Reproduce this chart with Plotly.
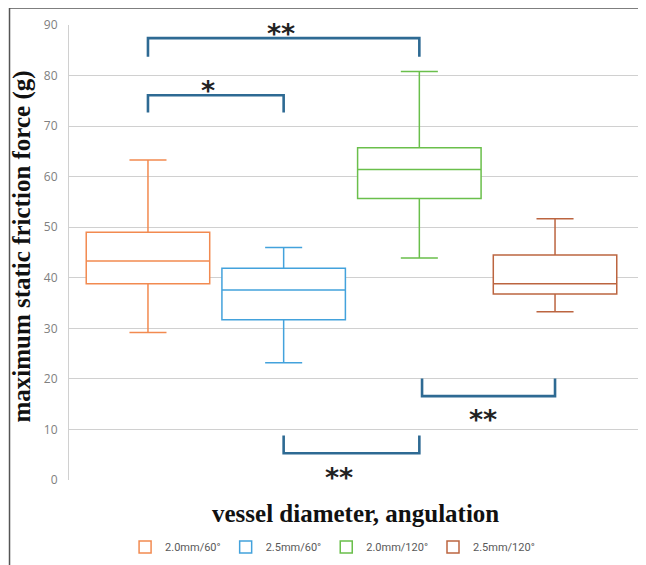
import plotly.graph_objects as go

categories = ["2.0mm/60°", "2.5mm/60°", "2.0mm/120°", "2.5mm/120°"]
positions = [0, 1, 2, 3]
lower_fence = [29.2, 23.2, 43.9, 33.3]
q1 = [38.8, 31.7, 55.7, 36.8]
median = [43.3, 37.6, 61.4, 38.8]
q3 = [49.0, 41.9, 65.7, 44.5]
upper_fence = [63.3, 46.0, 80.8, 51.7]
colors = ["#F28A50", "#43A2DC", "#6ABF4B", "#BC6540"]

# significance brackets
bracket_x0 = [0.0, 0.0, 1.0, 2.02]
bracket_x1 = [1.0, 2.0, 2.0, 3.0]
bracket_bar = [76.1, 87.4, 5.3, 16.6]
bracket_leg = [72.7, 83.7, 8.8, 20.1]
bracket_text = ["*", "**", "**", "**"]
label_x = [0.44, 0.98, 1.41, 2.47]
label_y = [78.2, 89.6, 1.6, 13.2]

fig = go.Figure()
for i, cat in enumerate(categories):
    fig.add_trace(go.Box(
        x=[positions[i]], name=cat,
        q1=[q1[i]], median=[median[i]], q3=[q3[i]],
        lowerfence=[lower_fence[i]], upperfence=[upper_fence[i]],
        line=dict(color=colors[i], width=1.5),
        fillcolor="white", width=0.91, whiskerwidth=0.3,
        boxpoints=False, hoverinfo="skip",
    ))

shapes = []
for x0, x1, yb, yl in zip(bracket_x0, bracket_x1, bracket_bar, bracket_leg):
    shapes.append(dict(
        type="path", xref="x", yref="y",
        path=f"M {x0},{yl} L {x0},{yb} L {x1},{yb} L {x1},{yl}",
        line=dict(color="#2E6A93", width=2.6),
    ))
# image frame
shapes.append(dict(type="line", xref="paper", yref="paper", x0=-0.1038, x1=1.02,
                   y0=1.0372, y1=1.0372, line=dict(color="#555555", width=1.5)))
shapes.append(dict(type="line", xref="paper", yref="paper", x0=-0.1038, x1=-0.1038,
                   y0=1.0372, y1=-0.2, line=dict(color="#555555", width=1.5)))

annotations = []
for t, lx, ly in zip(bracket_text, label_x, label_y):
    annotations.append(dict(
        x=lx, y=ly, xref="x", yref="y", text=f"<b>{t}</b>", showarrow=False,
        font=dict(family="DejaVu Sans", size=27, color="#222222"),
        xanchor="center", yanchor="middle", yshift=-6,
    ))
annotations.append(dict(
    x=0, y=0.513, xref="paper", yref="paper", xshift=-47, textangle=-90,
    text="<b>maximum static friction force (g)</b>", showarrow=False,
    font=dict(family="Liberation Serif", size=25, color="#111111"),
    xanchor="center", yanchor="middle",
))
annotations.append(dict(
    x=0.5, y=0, xref="paper", yref="paper", yshift=-33,
    text="<b>vessel diameter, angulation</b>", showarrow=False,
    font=dict(family="Liberation Serif", size=25, color="#111111"),
    xanchor="center", yanchor="middle",
))

fig.update_layout(
    width=638, height=557,
    margin=dict(l=61, r=4, t=17, b=83),
    paper_bgcolor="white", plot_bgcolor="white",
    boxmode="overlay",
    showlegend=True,
    legend=dict(orientation="h", x=0.46, xanchor="center", y=-0.147, yanchor="middle",
                font=dict(family="Roboto", size=11, color="#595959"),
                itemwidth=30, tracegroupgap=0),
    shapes=shapes,
    annotations=annotations,
    xaxis=dict(range=[-0.582, 3.641], showticklabels=False, showgrid=False,
               zeroline=False, showline=False, fixedrange=True),
    yaxis=dict(range=[0, 90], dtick=10, showgrid=True, gridcolor="#D0D0D0", gridwidth=1.2,
               zeroline=False, showline=True, linecolor="#D0D0D0", linewidth=1.2,
               tickfont=dict(family="Open Sans", size=12, color="#808080"),
               ticklabelstandoff=8),
)

fig.write_html("out.html")
